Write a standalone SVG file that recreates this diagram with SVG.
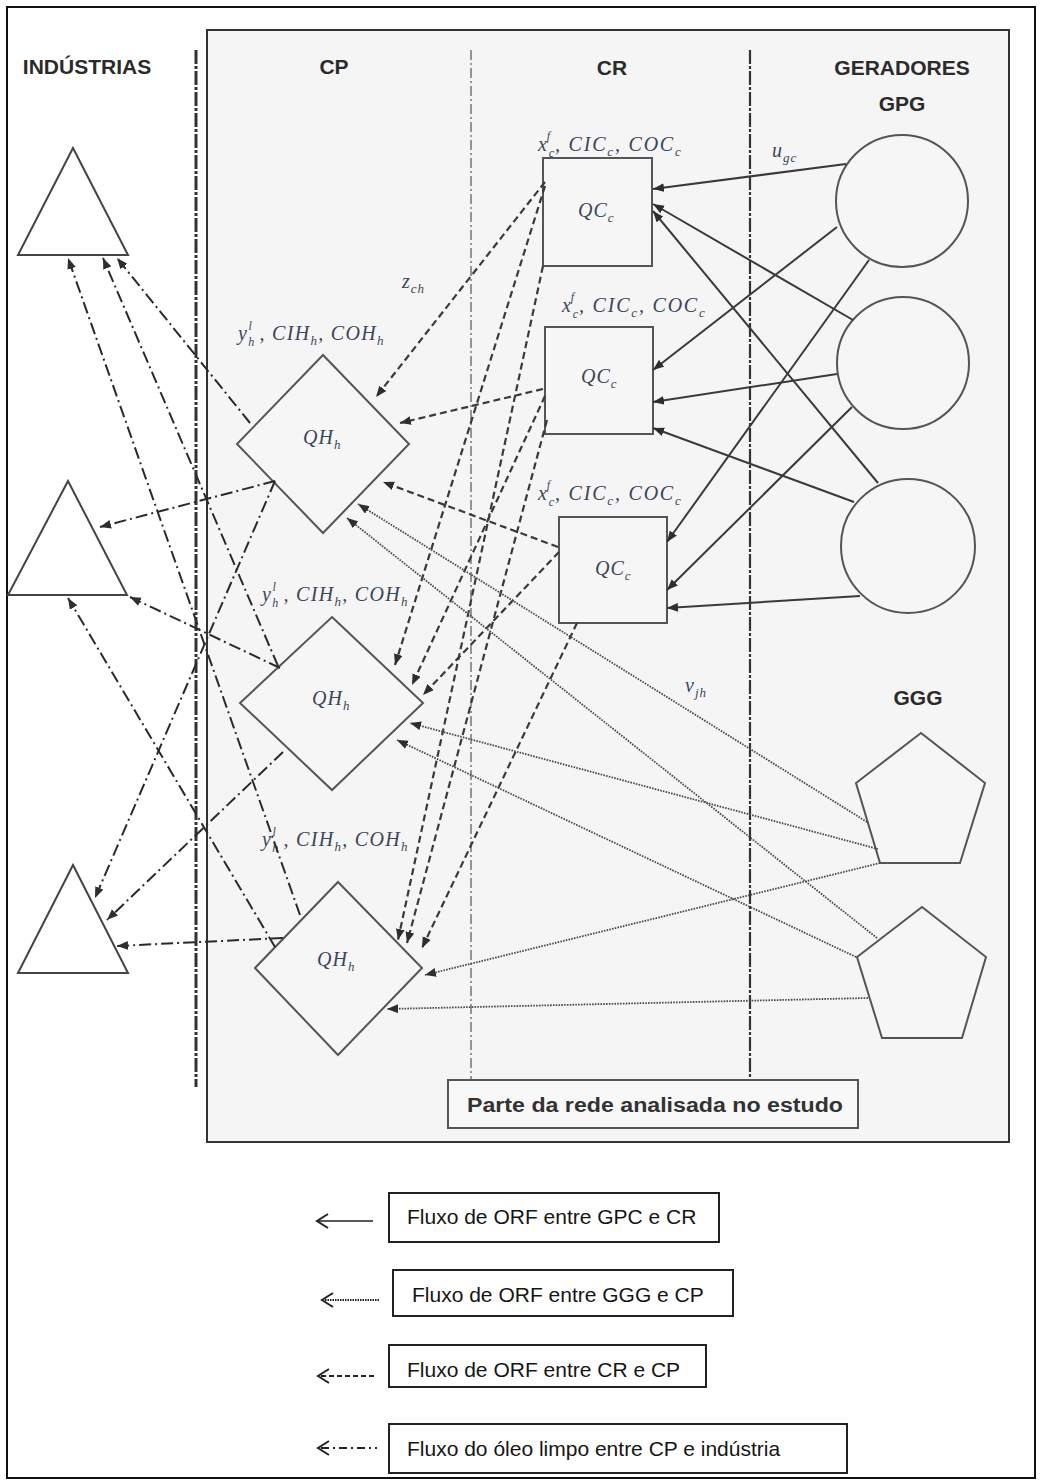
<svg xmlns="http://www.w3.org/2000/svg" width="1041" height="1484" viewBox="0 0 1041 1484">
  <defs>
    <marker id="ah" viewBox="0 0 10 8" refX="10" refY="4" markerWidth="11" markerHeight="9" markerUnits="userSpaceOnUse" orient="auto">
      <path d="M0,0 L10,4 L0,8 z" fill="#2e2e2e"/>
    </marker>
    <style>
      .hd { font-family: "Liberation Sans", Arial, sans-serif; font-weight: bold; font-size: 21px; fill: #2b2b2b; text-anchor: middle; }
      .m { font-family: "Liberation Serif", "DejaVu Serif", serif; font-style: italic; font-size: 20px; fill: #3c4656; letter-spacing: 1px; }
      .ml { letter-spacing: 1.3px; }
      .mx { letter-spacing: 1.8px; }
      .s { font-size: 13px; }
      .t { font-size: 12px; }
      .shape { fill: #f6f6f6; stroke: #555; stroke-width: 2; }
      .tri { fill: #fff; stroke: #444; stroke-width: 2; }
      .solid { stroke: #3a3a3a; stroke-width: 2; fill: none; marker-end: url(#ah); }
      .dash { stroke: #3a3a3a; stroke-width: 2.2; stroke-dasharray: 7 4; fill: none; marker-end: url(#ah); }
      .dot { stroke: #4a4a4a; stroke-width: 1.8; stroke-dasharray: 1.6 1.2; fill: none; marker-end: url(#ah); }
      .dd { stroke: #2a2a2a; stroke-width: 2; stroke-dasharray: 12 4 2 4; fill: none; marker-end: url(#ah); }
      .leg { font-family: "Liberation Sans", Arial, sans-serif; font-size: 21px; fill: #151515; }
      .lbox { fill: #fff; stroke: #222; stroke-width: 2; }
    </style>
  </defs>

  <!-- page frame and analysed region -->
  <rect x="0" y="0" width="1041" height="1484" fill="#fff"/>
  <rect x="7" y="7" width="1028" height="1471" fill="none" stroke="#111" stroke-width="2"/>
  <rect x="207" y="30" width="802" height="1112" fill="#f5f5f5" stroke="#333" stroke-width="2"/>

  <!-- column dividers -->
  <g id="dividers" fill="none">
    <line x1="196" y1="50" x2="196" y2="1087" stroke="#333" stroke-width="3" stroke-dasharray="14 2 3 2"/>
    <line x1="471" y1="50" x2="471" y2="1080" stroke="#555" stroke-width="1.2" stroke-dasharray="10 3 2 3"/>
    <line x1="750" y1="50" x2="750" y2="1080" stroke="#333" stroke-width="2.2" stroke-dasharray="14 2 3 2"/>
  </g>

  <!-- column headings -->
  <g id="headings">
    <text class="hd" x="87" y="74">INDÚSTRIAS</text>
    <text class="hd" x="334" y="74">CP</text>
    <text class="hd" x="612" y="75">CR</text>
    <text class="hd" x="902" y="75">GERADORES</text>
    <text class="hd" x="902" y="111">GPG</text>
    <text class="hd" x="918" y="705">GGG</text>
  </g>

  <!-- industries -->
  <g id="ind1"><polygon class="tri" points="73,148 128,255 18,255"/></g>
  <g id="ind2"><polygon class="tri" points="68,481 127,595 8,595"/></g>
  <g id="ind3"><polygon class="tri" points="73,865 128,973 18,973"/></g>

  <!-- CP nodes -->
  <g id="cp1">
    <polygon class="shape" points="323,355 409,444 323,533 237,444"/>
    <text class="m" x="303" y="444">QH<tspan class="s" dy="5">h</tspan></text>
    <text class="m ml" x="238" y="340">y<tspan class="t" dy="6">h</tspan><tspan class="t" dx="-7" dy="-16">l</tspan><tspan dy="10"> , CIH</tspan><tspan class="s" dy="5">h</tspan><tspan dy="-5">, COH</tspan><tspan class="s" dy="5">h</tspan></text>
  </g>
  <g id="cp2">
    <polygon class="shape" points="332,617 423,703 332,790 240,703"/>
    <text class="m" x="312" y="705">QH<tspan class="s" dy="5">h</tspan></text>
    <text class="m ml" x="262" y="601">y<tspan class="t" dy="6">h</tspan><tspan class="t" dx="-7" dy="-16">l</tspan><tspan dy="10"> , CIH</tspan><tspan class="s" dy="5">h</tspan><tspan dy="-5">, COH</tspan><tspan class="s" dy="5">h</tspan></text>
  </g>
  <g id="cp3">
    <polygon class="shape" points="338,882 422,968 338,1055 255,968"/>
    <text class="m" x="317" y="966">QH<tspan class="s" dy="5">h</tspan></text>
    <text class="m ml" x="262" y="846">y<tspan class="t" dy="6">h</tspan><tspan class="t" dx="-7" dy="-16">l</tspan><tspan dy="10"> , CIH</tspan><tspan class="s" dy="5">h</tspan><tspan dy="-5">, COH</tspan><tspan class="s" dy="5">h</tspan></text>
  </g>

  <!-- CR nodes -->
  <g id="cr1">
    <rect class="shape" x="543" y="158" width="109" height="108"/>
    <text class="m" x="578" y="217">QC<tspan class="s" dy="5">c</tspan></text>
    <text class="m mx" x="538" y="151">x<tspan class="t" dy="6">c</tspan><tspan class="t" dx="-9" dy="-17">f</tspan><tspan dx="3" dy="11">, CIC</tspan><tspan class="s" dy="5">c</tspan><tspan dy="-5">, COC</tspan><tspan class="s" dy="5">c</tspan></text>
  </g>
  <g id="cr2">
    <rect class="shape" x="545" y="327" width="108" height="107"/>
    <text class="m" x="581" y="383">QC<tspan class="s" dy="5">c</tspan></text>
    <text class="m mx" x="562" y="312">x<tspan class="t" dy="6">c</tspan><tspan class="t" dx="-9" dy="-17">f</tspan><tspan dx="3" dy="11">, CIC</tspan><tspan class="s" dy="5">c</tspan><tspan dy="-5">, COC</tspan><tspan class="s" dy="5">c</tspan></text>
  </g>
  <g id="cr3">
    <rect class="shape" x="559" y="517" width="108" height="106"/>
    <text class="m" x="595" y="575">QC<tspan class="s" dy="5">c</tspan></text>
    <text class="m mx" x="538" y="500">x<tspan class="t" dy="6">c</tspan><tspan class="t" dx="-9" dy="-17">f</tspan><tspan dx="3" dy="11">, CIC</tspan><tspan class="s" dy="5">c</tspan><tspan dy="-5">, COC</tspan><tspan class="s" dy="5">c</tspan></text>
  </g>

  <!-- GPG generators -->
  <g id="gpg1"><circle class="shape" cx="902" cy="201" r="66"/></g>
  <g id="gpg2"><circle class="shape" cx="903" cy="363" r="66"/></g>
  <g id="gpg3"><circle class="shape" cx="908" cy="546" r="67"/></g>

  <!-- GGG generators -->
  <g id="ggg1"><polygon class="shape" points="921,733 985,783 960,863 880,863 856,783"/></g>
  <g id="ggg2"><polygon class="shape" points="922,907 986,957 962,1038 882,1038 857,957"/></g>

  <!-- flow variable labels -->
  <g id="flow-labels">
    <text class="m" x="402" y="288">z<tspan class="s" dy="5">ch</tspan></text>
    <text class="m" x="772" y="157">u<tspan class="s" dy="5">gc</tspan></text>
    <text class="m" x="685" y="692">v<tspan class="s" dy="5">jh</tspan></text>
  </g>

  <g id="connectors">
    <!-- GPG to CR -->
    <line class="solid" x1="846" y1="164" x2="653" y2="189"/>
    <line class="solid" x1="853" y1="320" x2="653" y2="204"/>
    <line class="solid" x1="878" y1="483" x2="653" y2="211"/>
    <line class="solid" x1="837" y1="227" x2="653" y2="370"/>
    <line class="solid" x1="837" y1="374" x2="653" y2="402"/>
    <line class="solid" x1="854" y1="502" x2="653" y2="428"/>
    <line class="solid" x1="869" y1="260" x2="667" y2="542"/>
    <line class="solid" x1="852" y1="407" x2="667" y2="590"/>
    <line class="solid" x1="860" y1="596" x2="667" y2="608"/>

    <!-- CR to CP -->
    <line class="dash" x1="545" y1="182" x2="376" y2="397"/>
    <line class="dash" x1="543" y1="389" x2="400" y2="423"/>
    <line class="dash" x1="558" y1="547" x2="383" y2="482"/>
    <line class="dash" x1="545" y1="186" x2="395" y2="665"/>
    <line class="dash" x1="545" y1="396" x2="412" y2="685"/>
    <line class="dash" x1="559" y1="552" x2="423" y2="695"/>
    <line class="dash" x1="543" y1="266" x2="398" y2="940"/>
    <line class="dash" x1="547" y1="420" x2="407" y2="943"/>
    <line class="dash" x1="577" y1="623" x2="422" y2="948"/>

    <!-- GGG to CP -->
    <line class="dot" x1="867" y1="822" x2="358" y2="504"/>
    <line class="dot" x1="877" y1="938" x2="347" y2="518"/>
    <line class="dot" x1="878" y1="849" x2="410" y2="723"/>
    <line class="dot" x1="856" y1="957" x2="397" y2="740"/>
    <line class="dot" x1="880" y1="863" x2="425" y2="975"/>
    <line class="dot" x1="868" y1="998" x2="387" y2="1009"/>

    <!-- CP to industries -->
    <line class="dd" x1="300" y1="915" x2="68" y2="258"/>
    <line class="dd" x1="278" y1="666" x2="103" y2="258"/>
    <line class="dd" x1="250" y1="423" x2="117" y2="258"/>
    <line class="dd" x1="275" y1="481" x2="100" y2="527"/>
    <line class="dd" x1="275" y1="947" x2="68" y2="598"/>
    <line class="dd" x1="280" y1="668" x2="130" y2="597"/>
    <line class="dd" x1="275" y1="481" x2="95" y2="898"/>
    <line class="dd" x1="283" y1="752" x2="107" y2="920"/>
    <line class="dd" x1="283" y1="938" x2="117" y2="946"/>
  </g>

  <!-- scope caption -->
  <g id="scope">
    <rect x="448" y="1080" width="410" height="48" fill="#f8f8f8" stroke="#555" stroke-width="2"/>
    <text x="467" y="1112" font-family="Liberation Sans, Arial, sans-serif" font-weight="bold" font-size="20" fill="#333" textLength="376" lengthAdjust="spacingAndGlyphs">Parte da rede analisada no estudo</text>
  </g>

  <!-- legend -->
  <g id="legend" fill="none" stroke="#222">
    <line x1="318" y1="1221" x2="373" y2="1221" stroke-width="1.6"/>
    <path d="M328,1214 L317,1221 L328,1228" stroke-width="2"/>
    <line x1="325" y1="1300" x2="380" y2="1300" stroke-width="2" stroke-dasharray="1.5 1"/>
    <path d="M333,1293 L322,1300 L333,1307" stroke-width="2"/>
    <line x1="321" y1="1376" x2="377" y2="1376" stroke-width="2.2" stroke-dasharray="5 3"/>
    <path d="M329,1369 L318,1376 L329,1383" stroke-width="2"/>
    <line x1="321" y1="1448" x2="377" y2="1448" stroke-width="2.2" stroke-dasharray="8 4 2 4"/>
    <path d="M329,1441 L318,1448 L329,1455" stroke-width="2"/>
  </g>
  <g id="legend-solid"><rect class="lbox" x="389" y="1193" width="330" height="49"/><text class="leg" x="407" y="1224">Fluxo de ORF entre GPC e CR</text></g>
  <g id="legend-dotted"><rect class="lbox" x="393" y="1270" width="340" height="46"/><text class="leg" x="412" y="1302">Fluxo de ORF entre GGG e CP</text></g>
  <g id="legend-dashed"><rect class="lbox" x="389" y="1345" width="317" height="42"/><text class="leg" x="407" y="1377">Fluxo de ORF entre CR e CP</text></g>
  <g id="legend-dashdot"><rect class="lbox" x="389" y="1424" width="458" height="49"/><text class="leg" x="407" y="1456">Fluxo do óleo limpo entre CP e indústria</text></g>
</svg>
